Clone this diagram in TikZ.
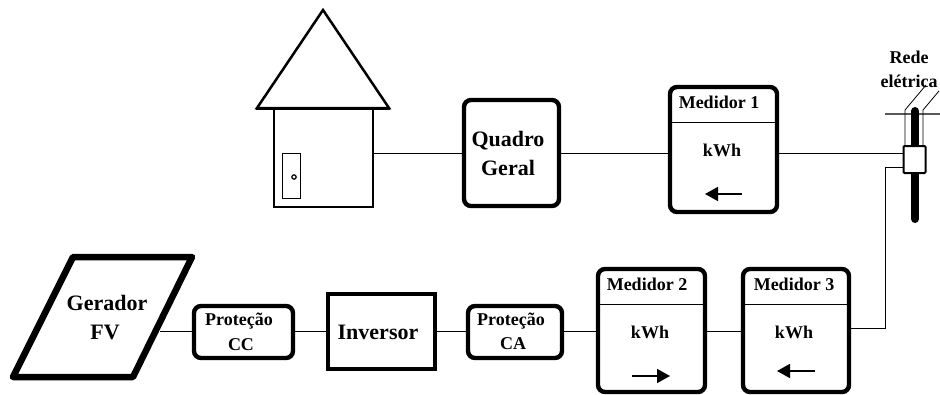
\documentclass[tikz,border=0pt]{standalone}
\usepackage{fontspec}
\setmainfont{Liberation Serif}
\usetikzlibrary{arrows.meta}
\tikzset{
  x=1pt,y=-1pt,
  wire/.style={draw=black,line width=1pt},
  rbox/.style={draw=black,line width=4.4pt,rounded corners=7pt,outer sep=0pt,inner sep=0pt,fill=white},
  sqbox/.style={draw=black,line width=4.4pt,outer sep=0pt,inner sep=0pt,fill=white},
  big/.style={font=\fontsize{22}{29}\selectfont\bfseries,inner sep=0pt},
  mid/.style={font=\fontsize{18}{20}\selectfont\bfseries,inner sep=0pt},
  flow/.style={draw=black,line width=1.6pt,-{Triangle[length=13pt,width=14pt]}},
}
\newcommand{\boxat}[6][rbox]{\node[#1,minimum width=#4pt,minimum height=#5pt] (#6) at (#2,#3) {};}
\begin{document}
\begin{tikzpicture}
\useasboundingbox (0,0) rectangle (940,394);
% house
\draw[line width=2.5pt,line join=miter] (323,10) -- (389,108) -- (257,108) -- cycle;
\boxat[sqbox,line width=2.5pt]{323.5}{157.5}{99}{99}{house}
\draw[line width=3pt] (256,108.3) -- (390,108.3);
\boxat[draw=black,line width=0.7pt,outer sep=0pt]{291.7}{175.5}{18}{45}{door}
\node[draw=black,circle,line width=1.2pt,minimum size=4.4pt,inner sep=0pt] (knob) at (294,177) {};
% quadro and meter 1
\boxat{511.5}{153}{95}{106}{quadro}
\node[big,align=center] (tq) at (508,153.5) {Quadro\\Geral};
\boxat{723.5}{149.5}{107}{125}{med1}
\coordinate (d1l) at (669,122); \coordinate (d1r) at (778,122);
\draw[wire] (d1l) -- (d1r);
\node[mid] (t1) at (719,102) {Medidor 1};
\node[mid] (k1) at (722,150) {kWh};
\coordinate (a1s) at (742,194); \coordinate (a1e) at (705,194);
\draw[flow] (a1s) -- (a1e);
% pole
\coordinate (armL) at (885,114); \coordinate (armR) at (940,114);
\draw[draw=gray!70!black,line width=1.6pt] (armL) -- (armR);
\coordinate (polet) at (915,111); \coordinate (poleb) at (915,219);
\draw[line width=8pt,line cap=round] (polet) -- (poleb);
\boxat[sqbox,line width=2pt,rounded corners=1pt]{914.5}{159.5}{22}{27}{cbox}
\coordinate (w1t) at (926,85); \coordinate (w2t) at (939,91);
\draw[line width=0.8pt] (905,146) -- (905,110) -- (w1t);
\draw[line width=0.8pt] (923,146) -- (923,110) -- (w2t);
\node[mid] (rede1) at (909,57) {Rede};
\node[mid] (rede2) at (909,81) {elétrica};
% lower row
\coordinate (g1) at (73,257); \coordinate (g2) at (192,257); \coordinate (g3) at (133,377); \coordinate (g4) at (13,377);
\draw[line width=6.5pt,line join=round] (g1) -- (g2) -- (g3) -- (g4) -- cycle;
\node[big] (tg1) at (107,303) {Gerador};
\node[big] (tg2) at (105,332) {FV};
\coordinate (gout) at (160,331);
\boxat{243.5}{332}{99}{52}{pcc}
\node[mid] (tpcc1) at (239,321) {Proteção};
\node[mid] (tpcc2) at (241,345) {CC};
\boxat[sqbox]{381.5}{331.5}{107}{75}{inv}
\node[big] (tinv) at (378,332) {Inversor};
\boxat{515}{332}{94}{52}{pca}
\node[mid] (tpca1) at (511,321) {Proteção};
\node[mid] (tpca2) at (513,344) {CA};
\boxat{651.5}{330.5}{107}{123}{med2}
\coordinate (d2l) at (598,304); \coordinate (d2r) at (705,304);
\draw[wire] (d2l) -- (d2r);
\node[mid] (t2) at (647,284) {Medidor 2};
\node[mid] (k2) at (650,332) {kWh};
\coordinate (a2s) at (632,376); \coordinate (a2e) at (670,376);
\draw[flow] (a2s) -- (a2e);
\boxat{796}{330.5}{106}{123}{med3}
\coordinate (d3l) at (743,304); \coordinate (d3r) at (849,304);
\draw[wire] (d3l) -- (d3r);
\node[mid] (t3) at (794,284) {Medidor 3};
\node[mid] (k3) at (794,332) {kWh};
\coordinate (a3s) at (815,371); \coordinate (a3e) at (777,371);
\draw[flow] (a3s) -- (a3e);
% connectors
\draw[wire] (house.east |- 0,153) -- (quadro.west |- 0,153);
\draw[wire] (quadro.east |- 0,153) -- (med1.west |- 0,153);
\draw[wire] (med1.east |- 0,153) -- (cbox.west |- 0,153);
\draw[wire] (gout) -- (pcc.west |- gout);
\draw[wire] (pcc.east |- 0,331) -- (inv.west |- 0,331);
\draw[wire] (inv.east |- 0,331) -- (pca.west |- 0,331);
\draw[wire] (pca.east |- 0,331) -- (med2.west |- 0,331);
\draw[wire] (med2.east |- 0,331) -- (med3.west |- 0,331);
\draw[wire] (med3.east |- 0,328) -- (885,328) -- (885,167) -- (cbox.west |- 0,167);
\end{tikzpicture}
\end{document}
